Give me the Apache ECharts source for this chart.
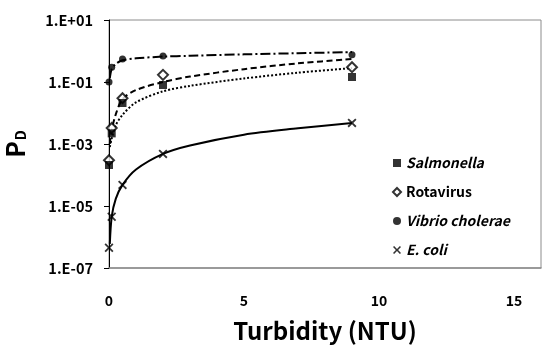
<!DOCTYPE html>
<html><head><meta charset="utf-8">
<script src="https://cdn.jsdelivr.net/npm/echarts@6/dist/echarts.min.js"></script>
<style>html,body{margin:0;padding:0;background:#fff}#c{width:543px;height:345px}</style>
</head><body><div id="c"></div>
<script>
const seriesNames = ['Salmonella', 'Rotavirus', 'Vibrio cholerae', 'E. coli'];
const turbidity = [0, 0.1, 0.5, 2, 9];
const salmonella = [2.1e-4, 2.2e-3, 2.1e-2, 8e-2, 1.45e-1];
const rotavirus = [3e-4, 3.3e-3, 3e-2, 1.7e-1, 3e-1];
const vibrio = [0.1, 0.3, 0.55, 0.69, 0.75];
const ecoli = [4.5e-7, 4.5e-6, 4.8e-5, 4.8e-4, 4.8e-3];
// fitted trend lines
const trendX = [0.03, 0.1, 0.25, 0.5, 1, 2, 3, 5, 7, 9];
const trendSalmonella = [8e-4, 1.5e-3, 4e-3, 8.7e-3, 2.2e-2, 5e-2, 7.5e-2, 1.3e-1, 2e-1, 2.8e-1];
const trendRotavirus = [1e-3, 2.8e-3, 9e-3, 2.8e-2, 5.5e-2, 1e-1, 1.5e-1, 2.6e-1, 4e-1, 5.5e-1];
const trendVibrio = [0.13, 0.26, 0.38, 0.5, 0.58, 0.66, 0.7, 0.78, 0.85, 0.92];
const trendEcoli = [6e-7, 4.5e-6, 1.7e-5, 4.8e-5, 1.5e-4, 4.8e-4, 9e-4, 2e-3, 3.2e-3, 4.8e-3];
const xTickLabels = [0, 5, 10, 15];

const FONT = '"Noto Sans CJK KR", "Noto Sans", sans-serif';
const pairs = (xs, ys) => xs.map((x, i) => [x, ys[i]]);
const crossPath = 'path://M1.4,0 L5,3.6 L8.6,0 L10,1.4 L6.4,5 L10,8.6 L8.6,10 L5,6.4 L1.4,10 L0,8.6 L3.6,5 L0,1.4 Z';

const chart = echarts.init(document.getElementById('c'), null, {renderer: 'canvas'});
chart.setOption({
  animation: false,
  backgroundColor: '#fff',
  textStyle: {fontFamily: FONT},
  grid: {left: 109, top: 20, right: 2, bottom: 77, show: true, borderColor: '#8c8c8c', borderWidth: 1,
    containLabel: false, outerBoundsMode: 'none'},
  xAxis: {
    type: 'value', min: 0, max: 16, interval: 5,
    splitLine: {show: false},
    axisLine: {lineStyle: {color: '#8c8c8c', width: 1.5}},
    axisTick: {show: false},
    axisLabel: {
      margin: 26, color: '#000', fontWeight: 'bold', fontSize: 14, fontFamily: FONT,
      showMaxLabel: false,
      formatter: v => xTickLabels.includes(v) ? String(v) : ''
    },
    name: 'Turbidity (NTU)', nameLocation: 'middle', nameGap: 51,
    nameTextStyle: {color: '#000', fontWeight: 'bold', fontSize: 24, fontFamily: FONT}
  },
  yAxis: {
    type: 'log', logBase: 10, min: 1e-7, max: 10, interval: 2,
    splitLine: {show: false},
    axisLine: {show: true, lineStyle: {color: '#000', width: 1}},
    axisTick: {show: true, length: 5, lineStyle: {color: '#000'}},
    axisLabel: {
      margin: 16, color: '#000', fontWeight: 'bold', fontSize: 14.5, fontFamily: FONT,
      formatter: v => {
        const e = Math.round(Math.log10(v));
        return '1.E' + (e >= 0 ? '+' : '-') + String(Math.abs(e)).padStart(2, '0');
      }
    },
    name: '{p|P}{d|D}', nameLocation: 'middle', nameGap: 80, nameRotate: 90,
    nameTextStyle: {
      color: '#000', fontFamily: FONT,
      rich: {
        p: {fontSize: 25, fontWeight: 'bold', color: '#000', fontFamily: FONT, lineHeight: 28},
        d: {fontSize: 14, fontWeight: 'bold', color: '#000', fontFamily: FONT, lineHeight: 28, padding: [11, 0, 0, 1]}
      }
    }
  },
  legend: {
    orient: 'vertical', left: 387, top: 151, itemGap: 15, itemWidth: 8, itemHeight: 8,
    textStyle: {
      color: '#000', fontWeight: 'bold', fontSize: 14, fontFamily: FONT,
      rich: {i: {fontStyle: 'italic', fontWeight: 'bold', fontSize: 14, color: '#000', fontFamily: FONT}}
    },
    formatter: n => n === 'Rotavirus' ? n : '{i|' + n + '}',
    data: [
      {name: seriesNames[0], icon: 'rect', itemStyle: {color: '#000'}},
      {name: seriesNames[1], icon: 'diamond', itemStyle: {color: '#fff', borderColor: '#000', borderWidth: 2}},
      {name: seriesNames[2], icon: 'circle', itemStyle: {color: '#000'}},
      {name: seriesNames[3], icon: crossPath, itemStyle: {color: '#000'}}
    ]
  },
  series: [
    {name: 'trend S', type: 'line', data: pairs(trendX, trendSalmonella), smooth: 0.3, showSymbol: false,
      lineStyle: {color: '#000', width: 2, type: [2, 2]}, z: 2},
    {name: 'trend R', type: 'line', data: pairs(trendX, trendRotavirus), smooth: 0.3, showSymbol: false,
      lineStyle: {color: '#000', width: 2, type: [6, 3.5]}, z: 2},
    {name: 'trend V', type: 'line', data: pairs(trendX, trendVibrio), smooth: 0.3, showSymbol: false,
      lineStyle: {color: '#000', width: 2, type: [10, 3, 2, 3]}, z: 2},
    {name: 'trend E', type: 'line', data: pairs(trendX, trendEcoli), smooth: 0.3, showSymbol: false,
      lineStyle: {color: '#000', width: 2}, z: 2},
    {name: seriesNames[0], type: 'scatter', data: pairs(turbidity, salmonella), symbol: 'rect', symbolSize: 8,
      itemStyle: {color: '#000'}, z: 5},
    {name: seriesNames[1], type: 'scatter', data: pairs(turbidity, rotavirus), symbol: 'diamond', symbolSize: 10,
      itemStyle: {color: '#fff', borderColor: '#000', borderWidth: 2}, z: 4},
    {name: seriesNames[2], type: 'scatter', data: pairs(turbidity, vibrio), symbol: 'circle', symbolSize: 7,
      itemStyle: {color: '#000'}, z: 5},
    {name: seriesNames[3], type: 'scatter', data: pairs(turbidity, ecoli), symbol: crossPath, symbolSize: 9,
      itemStyle: {color: '#000'}, z: 5}
  ]
});
</script>
</body></html>
